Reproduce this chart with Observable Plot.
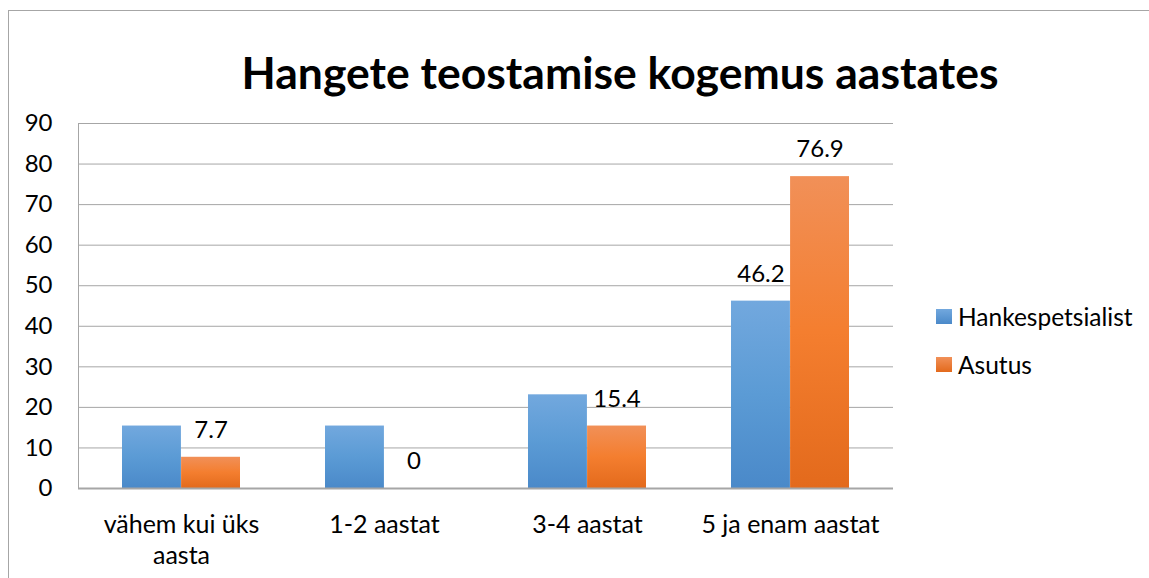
<!DOCTYPE html>
<html><head><meta charset="utf-8">
<script src="https://cdn.jsdelivr.net/npm/d3@7"></script>
<script src="https://cdn.jsdelivr.net/npm/@observablehq/plot@0.6"></script>
<style>
body{margin:0;background:#fff;font-family:Lato, sans-serif;}
#wrap{position:relative;width:1149px;height:578px;overflow:hidden;background:#fff;}
#border{position:absolute;left:8px;top:10px;width:1200px;height:700px;border:1px solid #a6a6a6;}
#title{position:absolute;top:45px;left:620px;transform:translateX(-50%);white-space:nowrap;font-family:Lato,sans-serif;font-weight:bold;font-size:44.5px;line-height:54px;color:#000;}
#chart{position:absolute;left:0;top:0;}
#legend{position:absolute;left:936px;top:292px;}
.item{display:flex;align-items:center;height:48px;font-size:24.5px;color:#000;font-family:Lato,sans-serif;}
.sw{width:16px;height:15px;margin-right:6px;}
</style>
</head><body>
<div id="wrap">
  <div id="border"></div>
  <div id="title">Hangete teostamise kogemus aastates</div>
  <div id="chart"></div>
  <div id="legend"></div>
</div>
<script>
const categories = ["vähem kui üks\naasta", "1-2 aastat", "3-4 aastat", "5 ja enam aastat"];
const seriesNames = ["Hankespetsialist", "Asutus"];
const hankespetsialist = [15.4, 15.4, 23.1, 46.2];
const asutus = [7.7, 0, 15.4, 76.9];
const hankeLabelShown = [false, false, false, true];
const asutusLabelShown = [true, true, true, true];
const yTicks = [0, 10, 20, 30, 40, 50, 60, 70, 80, 90];

const W = 1149, H = 578, mL = 78, mR = 256, mT = 123, mB = 90;
const pIn = 0.42, pOut = 0.21;
const step = (W - mL - mR) / (categories.length - pIn + 2 * pOut);
const half = step * (1 - pIn) / 2;

const blueRows = categories.map((c, i) => ({cat: c, value: hankespetsialist[i], show: hankeLabelShown[i]}));
const orangeRows = categories.map((c, i) => ({cat: c, value: asutus[i], show: asutusLabelShown[i]}));

const grid = "#a6a6a6";
const plot = Plot.plot({
  width: W, height: H,
  marginLeft: mL, marginRight: mR, marginTop: mT, marginBottom: mB,
  style: {background: "none", fontFamily: "Lato, sans-serif", fontSize: "24px", color: "#000", overflow: "visible"},
  x: {domain: categories, paddingInner: pIn, paddingOuter: pOut, axis: null},
  y: {domain: [0, 90], axis: null},
  marks: [
    Plot.ruleY(yTicks.filter(t => t > 0), {stroke: grid, strokeWidth: 1}),
    Plot.frame({anchor: "left", stroke: grid, strokeWidth: 1}),
    Plot.barY(blueRows, {x: "cat", y: "value", fill: "url(#gBlue)", insetRight: half}),
    Plot.barY(orangeRows, {x: "cat", y: "value", fill: "url(#gOrange)", insetLeft: half}),
    Plot.ruleY([0], {stroke: grid, strokeWidth: 2}),
    Plot.text(blueRows.filter(d => d.show), {x: "cat", y: "value", text: d => String(d.value), dx: -half / 2, dy: -27, fontSize: 24, fill: "#000"}),
    Plot.text(orangeRows.filter(d => d.show), {x: "cat", y: "value", text: d => String(d.value), dx: half / 2, dy: -27, fontSize: 24, fill: "#000"}),
    Plot.axisY({ticks: yTicks, tickSize: 0, tickPadding: 26, tickFormat: d => String(d), fontSize: 24, label: null}),
    Plot.axisX({tickSize: 0, tickPadding: 22, fontSize: 25, lineHeight: 1.24, label: null})
  ]
});

const defs = d3.select(plot).insert("defs", ":first-child");
function grad(id, stops) {
  const g = defs.append("linearGradient").attr("id", id).attr("x1", 0).attr("y1", 0).attr("x2", 0).attr("y2", 1);
  stops.forEach(([o, c]) => g.append("stop").attr("offset", o).attr("stop-color", c));
}
grad("gBlue", [[0, "#72a8de"], [0.5, "#5b9bd5"], [1, "#4a89c9"]]);
grad("gOrange", [[0, "#f19058"], [0.5, "#f47e2f"], [1, "#e36a1c"]]);

document.getElementById("chart").appendChild(plot);

const seriesColors = ["linear-gradient(#72a8de,#4a89c9)", "linear-gradient(#f19058,#e36a1c)"];
const legend = document.getElementById("legend");
seriesNames.forEach((s, i) => {
  const item = document.createElement("div");
  item.className = "item";
  const sw = document.createElement("div");
  sw.className = "sw";
  sw.style.background = seriesColors[i];
  const t = document.createElement("span");
  t.textContent = s;
  item.appendChild(sw); item.appendChild(t);
  legend.appendChild(item);
});
</script>
</body></html>
